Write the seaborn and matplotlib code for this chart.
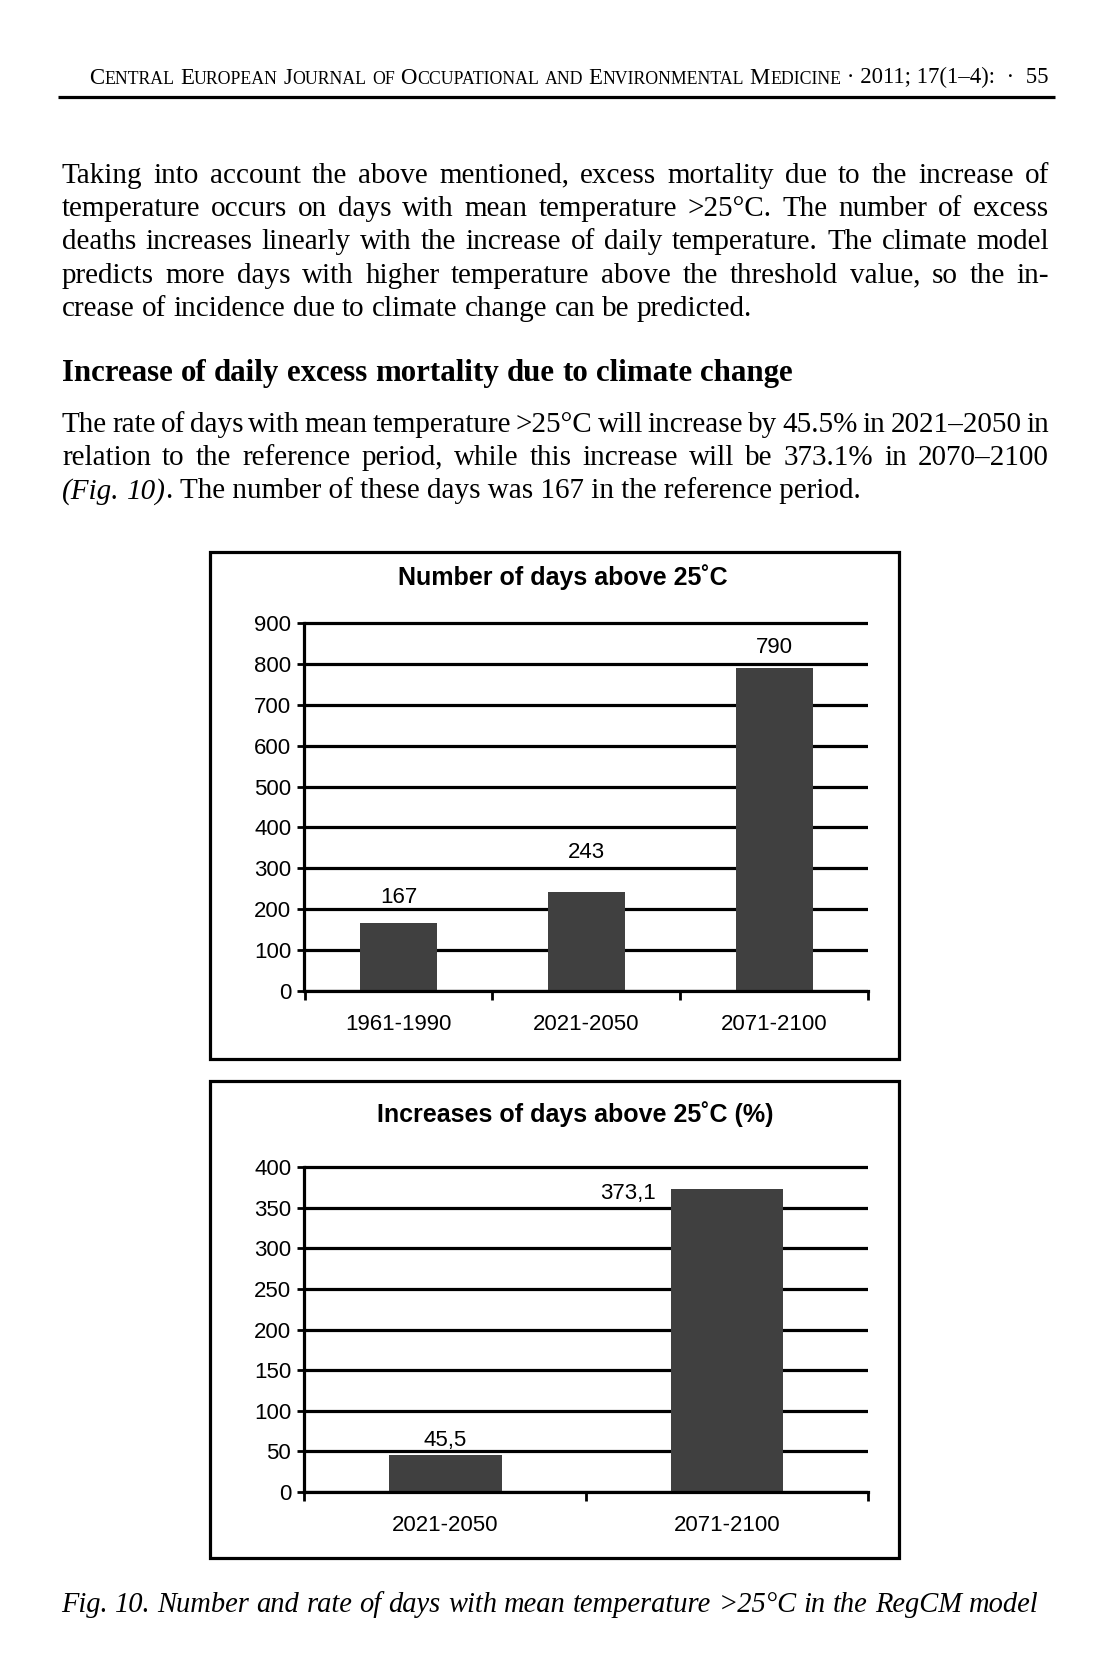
import matplotlib
matplotlib.use("Agg")
import matplotlib.pyplot as plt
import seaborn as sns
import numpy as np
import pandas as pd
from matplotlib.font_manager import FontProperties
from matplotlib.patches import Rectangle

# ---------------- data ----------------
header_words = ["Central", "European", "Journal", "of", "Occupational", "and",
                "Environmental", "Medicine"]
header_tail = " \u00b7 2011; 17(1\u20134):  \u00b7  55"

para1_lines = [
    "Taking into account the above mentioned, excess mortality due to the increase of",
    "temperature occurs on days with mean temperature >25\u00b0C. The number of excess",
    "deaths increases linearly with the increase of daily temperature. The climate model",
    "predicts more days with higher temperature above the threshold value, so the in-",
    "crease of incidence due to climate change can be predicted.",
]
heading = "Increase of daily excess mortality due to climate change"
para2_lines = [
    "The rate of days with mean temperature >25\u00b0C will increase by 45.5% in 2021\u20132050 in",
    "relation to the reference period, while this increase will be 373.1% in 2070\u20132100",
]
para2_last_italic = "(Fig. 10)"
para2_last_rest = ". The number of these days was 167 in the reference period."
caption = "Fig. 10. Number and rate of days with mean temperature >25\u00b0C in the RegCM model"

chart1_title = "Number of days above 25\u02daC"
chart1_periods = ["1961-1990", "2021-2050", "2071-2100"]
chart1_days = [167, 243, 790]
chart1_yticks = [0, 100, 200, 300, 400, 500, 600, 700, 800, 900]

chart2_title = "Increases of days above 25\u02daC (%)"
chart2_periods = ["2021-2050", "2071-2100"]
chart2_increase = [45.5, 373.1]
chart2_yticks = [0, 50, 100, 150, 200, 250, 300, 350, 400]

# ---------------- setup ----------------
sns.set_theme(style="white")
plt.rcParams["font.family"] = ["Liberation Sans", "DejaVu Sans"]

W, H = 1110, 1677
fig = plt.figure(figsize=(W / 100, H / 100), dpi=100)
fig.patch.set_facecolor("white")
page = fig.add_axes([0, 0, 1, 1])
page.set_xlim(0, W)
page.set_ylim(H, 0)
page.axis("off")
renderer = fig.canvas.get_renderer()

SERIF = ["Liberation Serif", "DejaVu Serif"]
SANS = ["Liberation Sans", "DejaVu Sans"]


def fp(size, style="normal", weight="normal", family=SERIF):
    return FontProperties(family=family, size=size, style=style, weight=weight)


def measure(s, prop):
    t = page.text(0, 0, s, fontproperties=prop)
    w = t.get_window_extent(renderer).width
    t.remove()
    return w


def space_w(prop):
    return measure("x x", prop) - measure("xx", prop)


def fit_size(s, target, style="normal", weight="normal", family=SERIF, base=20.0):
    w = measure(s, fp(base, style, weight, family))
    return base * target / w


def place_runs(runs, x, y):
    for s, prop in runs:
        page.text(x, y, s, fontproperties=prop, ha="left", va="baseline", color="black")
        x += measure(s, prop)
    return x


def justified(line, prop, x0, x1, y):
    words = line.split(" ")
    widths = [measure(w, prop) for w in words]
    gap = (x1 - x0 - sum(widths)) / (len(words) - 1)
    x = x0
    for w, wd in zip(words, widths):
        page.text(x, y, w, fontproperties=prop, ha="left", va="baseline", color="black")
        x += wd + gap


def natural(line, prop, x0, y):
    words = line.split(" ")
    sp = space_w(prop)
    x = x0
    for w in words:
        page.text(x, y, w, fontproperties=prop, ha="left", va="baseline", color="black")
        x += measure(w, prop) + sp
    return x


# ---------------- header (small caps) ----------------
def header_runs(S):
    big = fp(S)
    small = fp(S * 0.78)
    runs = []
    for i, word in enumerate(header_words):
        if i > 0:
            runs.append(("SPACE", big))
        cur, cur_small = "", None
        for ch in word:
            is_small = ch.islower()
            if cur_small is None or is_small == cur_small:
                cur += ch.upper()
                cur_small = is_small
            else:
                runs.append((cur, small if cur_small else big))
                cur, cur_small = ch.upper(), is_small
        runs.append((cur, small if cur_small else big))
    runs.append((header_tail, big))
    return runs


def runs_width(runs):
    tot = 0
    for s, p in runs:
        tot += space_w(p) if s == "SPACE" else measure(s, p)
    return tot


S0 = 14.0
w0 = runs_width(header_runs(S0))
S_head = S0 * (1050 - 89) / w0
x = 89
for s, p in header_runs(S_head):
    if s == "SPACE":
        x += space_w(p)
    else:
        page.text(x, 83.5, s, fontproperties=p, ha="left", va="baseline", color="black")
        x += measure(s, p)

page.plot([58, 1055], [97, 97], color="black", lw=2.3, solid_capstyle="butt")

# ---------------- body text ----------------
X0, X1 = 62, 1049
body_size = fit_size(para1_lines[-1], 754 - X0)
body = fp(body_size)
base1 = [182.7, 216.0, 249.3, 282.6, 315.9]
for i, (line, y) in enumerate(zip(para1_lines, base1)):
    if i < len(para1_lines) - 1:
        justified(line, body, X0, X1, y)
    else:
        natural(line, body, X0, y)

head_size = fit_size(heading, 791 - X0, weight="bold")
natural(heading, fp(head_size, weight="bold"), X0, 380.5)

base2 = [431.7, 465.0, 498.3]
for line, y in zip(para2_lines, base2):
    justified(line, body, X0, X1, y)
xc = natural(para2_last_italic, fp(body_size, style="italic"), X0, base2[2])
xc -= space_w(body)
place_runs([(para2_last_rest, body)], xc, base2[2])

cap_size = fit_size(caption, 1042 - 61, style="italic")
natural(caption, fp(cap_size, style="italic"), 61, 1612)

# ---------------- chart boxes ----------------
for (bx0, by0, bx1, by1) in [(209.5, 551.5, 898.5, 1058.5), (209.5, 1081, 898.5, 1558)]:
    page.add_patch(Rectangle((bx0, by0), bx1 - bx0, by1 - by0, fill=False,
                             ec="black", lw=2.3, zorder=1))

page.text(563, 577, chart1_title, ha="center", va="center", fontsize=18,
          fontweight="bold", family=SANS, color="black")
page.text(575, 1114, chart2_title, ha="center", va="center", fontsize=18,
          fontweight="bold", family=SANS, color="black")

BAR = "#404040"
TICK_FS = 16


def style_chart(ax, ymax, ncat):
    ax.set_facecolor("none")
    ax.set_axisbelow(True)
    ax.set_xlim(-0.5, ncat - 0.5)
    ax.yaxis.grid(True, color="black", linewidth=2.3)
    ax.xaxis.grid(False)
    for side in ["top", "right"]:
        ax.spines[side].set_visible(False)
    for side in ["left", "bottom"]:
        ax.spines[side].set_color("black")
        ax.spines[side].set_linewidth(2.3)
    ax.spines["left"].set_bounds(0, ymax)
    ax.set_xlabel("")
    ax.set_ylabel("")
    ax.tick_params(axis="y", which="major", direction="out", length=5, width=2,
                   color="black", pad=4.5, labelsize=TICK_FS, labelcolor="black", left=True)
    ax.tick_params(axis="x", which="major", length=0, pad=16.5, labelsize=TICK_FS,
                   labelcolor="black")
    ax.set_xticks(np.arange(-0.5, ncat, 1.0), minor=True)
    ax.tick_params(axis="x", which="minor", direction="out", length=6.5, width=2,
                   color="black", bottom=True)


# chart 1: 900 at y=623, 0 at y=991 ; pad top by 4px
c1_top, c1_bot = 619, 991
ax1 = fig.add_axes([304.5 / W, 1 - c1_bot / H, 563.5 / W, (c1_bot - c1_top) / H])
df1 = pd.DataFrame({"period": chart1_periods, "days": chart1_days})
sns.barplot(data=df1, x="period", y="days", color=BAR, saturation=1, width=0.41,
            linewidth=0, ax=ax1)
ax1.set_ylim(0, 900 * (c1_bot - c1_top) / (991 - 623))
ax1.set_yticks(chart1_yticks)
style_chart(ax1, 900, len(chart1_periods))
label1_offsets = [25, 39, 20]
for i, (v, off) in enumerate(zip(chart1_days, label1_offsets)):
    ax1.annotate(str(v), xy=(i, v), xytext=(0, off), textcoords="offset pixels",
                 ha="center", va="center", fontsize=TICK_FS, color="black")

# chart 2: 400 at y=1167, 0 at y=1492
c2_top, c2_bot = 1163, 1492
ax2 = fig.add_axes([304.5 / W, 1 - c2_bot / H, 563.5 / W, (c2_bot - c2_top) / H])
df2 = pd.DataFrame({"period": chart2_periods, "increase": chart2_increase})
sns.barplot(data=df2, x="period", y="increase", color=BAR, saturation=1, width=0.40,
            linewidth=0, ax=ax2)
ax2.set_ylim(0, 400 * (c2_bot - c2_top) / (1492 - 1167))
ax2.set_yticks(chart2_yticks)
style_chart(ax2, 400, len(chart2_periods))
ax2.annotate(str(chart2_increase[0]).replace(".", ","), xy=(0, chart2_increase[0]),
             xytext=(0, 15), textcoords="offset pixels", ha="center", va="center",
             fontsize=TICK_FS, color="black")
ax2.annotate(str(chart2_increase[1]).replace(".", ","), xy=(1 - 0.20, chart2_increase[1]),
             xytext=(-15, -5), textcoords="offset pixels", ha="right", va="center",
             fontsize=TICK_FS, color="black")

fig.savefig("out.png", dpi=100, facecolor="white")
